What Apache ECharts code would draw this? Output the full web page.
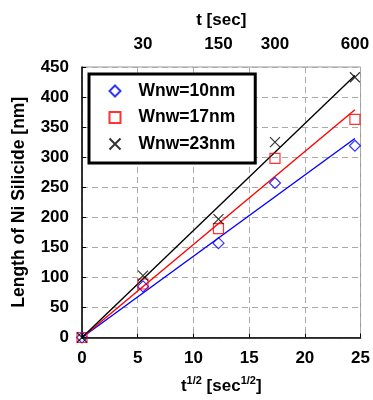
<!DOCTYPE html>
<html>
<head>
<meta charset="utf-8">
<script src="https://cdn.jsdelivr.net/npm/echarts@6/dist/echarts.min.js"></script>
<style>html,body{margin:0;padding:0;background:#fff}#c{width:373px;height:400px}</style>
</head>
<body>
<div id="c"></div>
<script>
// time points [sec]
var times = [0, 30, 150, 300, 600];
var topTicks = [30, 150, 300, 600];
var seriesNames = ['Wnw=10nm', 'Wnw=17nm', 'Wnw=23nm'];
var w10 = [0, 85, 157, 257, 319];
var w17 = [0, 89, 181, 298, 363];
var w23 = [0, 103, 197, 325, 433];
// fitted line values at t=0 and t=600
var fit10 = [0, 331];
var fit17 = [0, 379];
var fit23 = [0, 436];
var fitTimes = [0, 600];

var font = 'Liberation Sans, Arial, sans-serif';
function pts(vals){ return vals.map(function(v,i){ return [Math.sqrt(times[i]), v]; }); }
function fitPts(vals){ return vals.map(function(v,i){ return [Math.sqrt(fitTimes[i]), v]; }); }
var crossPath = 'path://M0,0L10,10M10,0L0,10';

var chart = echarts.init(document.getElementById('c'));
var lbl = {fontFamily: font, fontWeight: 'bold', fontSize: 17, color: '#000'};
chart.setOption({
  animation: false,
  grid: {left: 82, right: 10, top: 67, bottom: 59, show: true, borderColor: '#999', borderWidth: 1},
  legend: {
    data: seriesNames,
    orient: 'vertical',
    left: 89, top: 74,
    padding: [7, 20, 9, 18],
    itemGap: 6.5,
    itemWidth: 11, itemHeight: 11,
    borderColor: '#000', borderWidth: 3,
    backgroundColor: '#fff',
    textStyle: {fontFamily: font, fontWeight: 'bold', fontSize: 17.5, color: '#000', lineHeight: 20, padding: [0,0,0,13]}
  },
  xAxis: [{
    type: 'value', min: 0, max: 25, interval: 5, position: 'bottom',
    axisLine: {lineStyle: {color: '#000', width: 1.5}},
    axisTick: {inside: true, length: 4, lineStyle: {color: '#000'}},
    axisLabel: Object.assign({margin: 12}, lbl),
    splitLine: {show: true, lineStyle: {color: '#aaa', type: [6, 4], width: 1}},
    name: '{b|t}{s|1/2}{b| [sec}{s|1/2}{b|]}',
    nameLocation: 'middle', nameGap: 38,
    nameTextStyle: {rich: {b: {fontFamily: font, fontWeight: 'bold', fontSize: 17, color: '#000'}, s: {fontFamily: font, fontWeight: 'bold', fontSize: 11, color: '#000', verticalAlign: 'top', lineHeight: 22}}}
  }, {
    type: 'value', min: 0, max: 25, position: 'top',
    axisLine: {show: false},
    axisTick: {show: false},
    splitLine: {show: false},
    axisLabel: Object.assign({
      margin: 14,
      customValues: topTicks.map(function(t){ return Math.sqrt(t); }),
      formatter: function(v){ return String(Math.round(v*v)); }
    }, lbl),
    name: 't [sec]', nameLocation: 'middle', nameGap: 38,
    nameTextStyle: lbl
  }],
  yAxis: {
    type: 'value', min: 0, max: 450, interval: 50,
    axisLine: {show: true, lineStyle: {color: '#000', width: 1.5}},
    axisTick: {show: true, inside: true, length: 4, lineStyle: {color: '#000'}},
    axisLabel: Object.assign({margin: 13}, lbl),
    splitLine: {show: true, lineStyle: {color: '#aaa', type: [6, 4], width: 1}},
    name: 'Length of Ni Silicide [nm]', nameLocation: 'middle', nameGap: 54,
    nameTextStyle: Object.assign({}, lbl, {fontSize: 17.5})
  },
  series: [
    {type: 'line', data: fitPts(fit10), symbol: 'none', lineStyle: {color: '#0000ff', width: 1.4}, silent: true, z: 1},
    {type: 'line', data: fitPts(fit17), symbol: 'none', lineStyle: {color: '#ff0000', width: 1.4}, silent: true, z: 1},
    {type: 'line', data: fitPts(fit23), symbol: 'none', lineStyle: {color: '#000000', width: 1.4}, silent: true, z: 1},
    {name: seriesNames[0], type: 'scatter', data: pts(w10), symbol: 'diamond', symbolSize: 11,
     itemStyle: {color: 'none', borderColor: '#0000ff', borderWidth: 1.2}, z: 3},
    {name: seriesNames[1], type: 'scatter', data: pts(w17), symbol: 'rect', symbolSize: 10,
     itemStyle: {color: 'none', borderColor: '#ff0000', borderWidth: 1.2}, z: 3},
    {name: seriesNames[2], type: 'scatter', data: pts(w23), symbol: crossPath, symbolSize: 10,
     itemStyle: {color: 'none', borderColor: '#000000', borderWidth: 1.2}, z: 3}
  ]
});
</script>
</body>
</html>
